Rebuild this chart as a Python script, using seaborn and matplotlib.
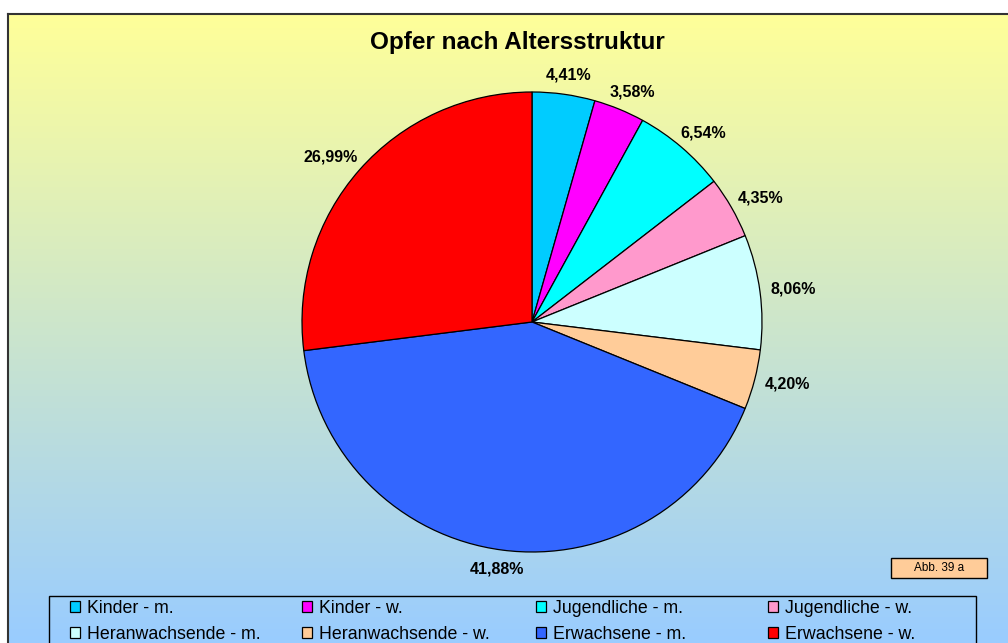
import numpy as np
import matplotlib.pyplot as plt
import seaborn as sns
from matplotlib.patches import Rectangle
from matplotlib.colors import LinearSegmentedColormap

# Daten: Opfer nach Altersstruktur (Anteile in %)
CATEGORIES = ['Kinder - m.', 'Kinder - w.', 'Jugendliche - m.', 'Jugendliche - w.',
              'Heranwachsende - m.', 'Heranwachsende - w.', 'Erwachsene - m.', 'Erwachsene - w.']
SHARES = [4.41, 3.58, 6.54, 4.35, 8.06, 4.20, 41.88, 26.99]
COLORS = ['#00CCFF', '#FF00FF', '#00FFFF', '#FF99CC',
          '#CCFFFF', '#FFCC99', '#3366FF', '#FF0000']

TITLE = 'Opfer nach Altersstruktur'
NOTE = 'Abb. 39 a'

W, H = 1008, 643

sns.set_theme(style='white')
plt.rcParams['font.family'] = ['Liberation Sans', 'DejaVu Sans']
plt.rcParams['text.color'] = 'black'

fig = plt.figure(figsize=(W / 100, H / 100), dpi=100)
fig.patch.set_facecolor('white')


def fx(px):
    return px / W


def fy(py):
    return 1 - py / H


# Hintergrund mit Farbverlauf gelb -> hellblau
bg = fig.add_axes([fx(8), 0, 1 - fx(8), fy(14)])
cmap = LinearSegmentedColormap.from_list('bg', ['#FFFF99', '#99CCFF'])
bg.imshow(np.linspace(0, 1, 256).reshape(-1, 1), aspect='auto', cmap=cmap,
          extent=[0, 1, 0, 1], origin='upper')
bg.set_xticks([])
bg.set_yticks([])
for side in ['right', 'bottom']:
    bg.spines[side].set_visible(False)
for side in ['top', 'left']:
    bg.spines[side].set_color('#333333')
    bg.spines[side].set_linewidth(1.5)

# Kreisdiagramm
R = 230
cx, cy = 532, 322
ax = fig.add_axes([fx(cx - R), fy(cy + R), 2 * R / W, 2 * R / H])
wedges, texts, autotexts = ax.pie(
    SHARES, colors=COLORS, startangle=90, counterclock=False,
    wedgeprops=dict(edgecolor='black', linewidth=0.9),
    autopct=lambda p: f'{p:.2f}%'.replace('.', ','), pctdistance=1.13,
    textprops=dict(fontsize=11.5, fontweight='bold', color='black'))
ax.set_xlim(-1, 1)
ax.set_ylim(-1, 1)
ax.set_aspect('auto')
ax.axis('off')

# Beschriftungen wie in Excel knapp ausserhalb der Segmente
gap = 11
for w, t in zip(wedges, autotexts):
    th = np.deg2rad((w.theta1 + w.theta2) / 2)
    hw = 4.5 * len(t.get_text())
    t.set_position(((R + gap + hw) * np.cos(th) / R,
                    (R + gap + 8) * np.sin(th) / R))

fig.text(fx(517), fy(42), TITLE, ha='center', va='center',
         fontsize=17.5, fontweight='bold', color='black')

# Legende (4 Spalten, 2 Zeilen)
fig.add_artist(Rectangle((fx(49), fy(680)), fx(976 - 49), (680 - 596) / H,
                         transform=fig.transFigure, facecolor='none',
                         edgecolor='black', linewidth=1))
col_x = [70, 302, 536, 768]
for i, x0 in enumerate(col_x):
    idx = [i, i + 4]
    fig.legend([wedges[j] for j in idx], [CATEGORIES[j] for j in idx],
               loc='upper left', bbox_to_anchor=(fx(x0), fy(600)),
               frameon=False, borderpad=0, borderaxespad=0,
               handlelength=0.58, handleheight=0.58, handletextpad=0.38,
               labelspacing=0.52, fontsize=12.8, labelcolor='black')

# Abb.-Kästchen
fig.add_artist(Rectangle((fx(891), fy(578)), fx(987 - 891), 20 / H,
                         transform=fig.transFigure, facecolor='#FFCC99',
                         edgecolor='black', linewidth=1))
fig.text(fx(939), fy(568), NOTE, ha='center', va='center', fontsize=8.5,
         color='black')

fig.savefig('out.png', dpi=100)
